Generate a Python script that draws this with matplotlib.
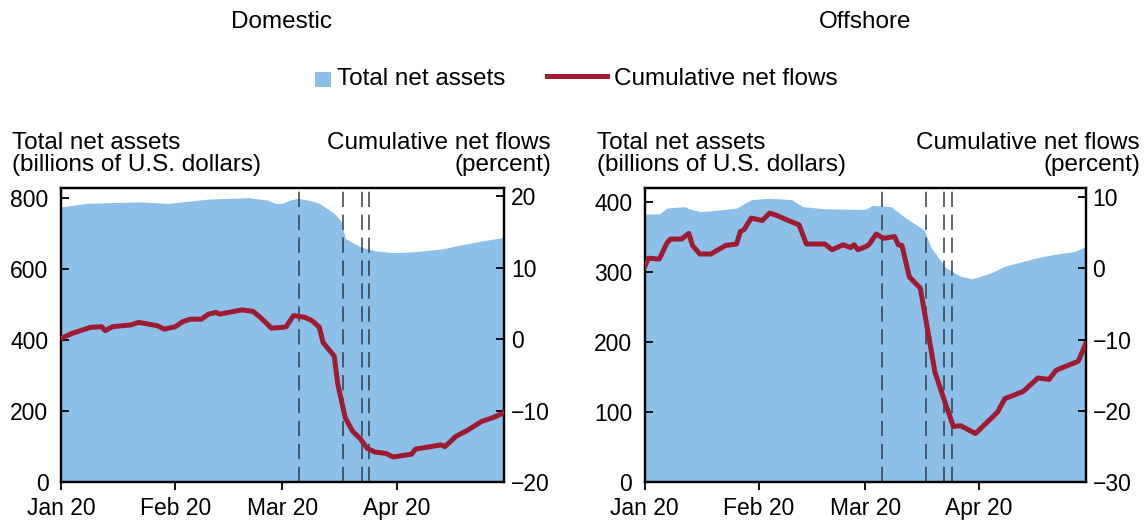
import numpy as np
import pandas as pd
import matplotlib
matplotlib.use("Agg")
import matplotlib.pyplot as plt
import matplotlib.dates as mdates
from matplotlib.patches import Patch, Rectangle
from matplotlib.lines import Line2D
from matplotlib.legend_handler import HandlerPatch

plt.rcParams["font.family"] = ["Liberation Sans", "DejaVu Sans"]

# ---- domestic prime funds ----
dom_tna_dates = [
    "2020-01-01", "2020-01-08", "2020-01-22", "2020-01-30", "2020-02-10",
    "2020-02-21", "2020-02-26", "2020-02-28", "2020-03-01", "2020-03-03",
    "2020-03-05", "2020-03-08", "2020-03-11", "2020-03-15", "2020-03-17",
    "2020-03-18", "2020-03-22", "2020-03-26", "2020-03-31", "2020-04-05",
    "2020-04-13", "2020-04-18", "2020-04-24", "2020-04-30",
]
dom_tna = [
    776, 786, 790, 786, 798,
    802, 795, 786, 786, 795,
    800, 795, 786, 758, 734,
    687, 664, 652, 647, 649,
    657, 668, 680, 690,
]

dom_flow_dates = [
    "2020-01-01", "2020-01-04", "2020-01-09", "2020-01-12", "2020-01-13",
    "2020-01-15", "2020-01-20", "2020-01-22", "2020-01-27", "2020-01-29",
    "2020-02-01", "2020-02-03", "2020-02-05", "2020-02-08", "2020-02-10",
    "2020-02-12", "2020-02-13", "2020-02-19", "2020-02-22", "2020-02-24",
    "2020-02-27", "2020-03-01", "2020-03-02", "2020-03-04", "2020-03-07",
    "2020-03-09", "2020-03-11", "2020-03-12", "2020-03-15", "2020-03-16",
    "2020-03-18", "2020-03-20", "2020-03-22", "2020-03-24", "2020-03-26",
    "2020-03-29", "2020-03-31", "2020-04-05", "2020-04-06", "2020-04-13",
    "2020-04-14", "2020-04-17", "2020-04-20", "2020-04-24", "2020-04-27",
    "2020-04-30",
]
dom_flow = [
    0.1, 0.8, 1.65, 1.75, 1.2,
    1.75, 2.0, 2.35, 1.9, 1.4,
    1.75, 2.45, 2.8, 2.8, 3.5,
    3.75, 3.5, 4.1, 3.9, 3.06,
    1.55, 1.65, 1.74, 3.3, 3.06,
    2.6, 1.65, -0.47, -2.35, -6.35,
    -11.0, -12.9, -13.9, -15.3, -15.8,
    -16.0, -16.5, -16.1, -15.4, -14.8,
    -15.05, -13.6, -12.8, -11.5, -11.0,
    -10.3,
]

# ---- offshore prime funds ----
off_tna_dates = [
    "2020-01-01", "2020-01-05", "2020-01-07", "2020-01-12", "2020-01-13",
    "2020-01-16", "2020-01-19", "2020-01-26", "2020-01-30", "2020-02-04",
    "2020-02-10", "2020-02-13", "2020-02-19", "2020-03-01", "2020-03-03",
    "2020-03-08", "2020-03-12", "2020-03-17", "2020-03-19", "2020-03-23",
    "2020-03-27", "2020-03-30", "2020-04-04", "2020-04-08", "2020-04-16",
    "2020-04-21", "2020-04-27", "2020-04-30",
]
off_tna = [
    382.6, 382.6, 391, 393, 390,
    386, 387, 391, 403, 405,
    403, 393, 390, 389, 395,
    393, 377, 360, 334, 305.5,
    293.6, 290, 298, 308, 319,
    324.5, 329, 336,
]

off_flow_dates = [
    "2020-01-01", "2020-01-02", "2020-01-05", "2020-01-07", "2020-01-08",
    "2020-01-11", "2020-01-13", "2020-01-14", "2020-01-16", "2020-01-19",
    "2020-01-21", "2020-01-23", "2020-01-26", "2020-01-27", "2020-01-28",
    "2020-01-30", "2020-02-02", "2020-02-04", "2020-02-06", "2020-02-10",
    "2020-02-12", "2020-02-14", "2020-02-19", "2020-02-21", "2020-02-24",
    "2020-02-26", "2020-02-27", "2020-02-28", "2020-03-01", "2020-03-02",
    "2020-03-04", "2020-03-06", "2020-03-09", "2020-03-10", "2020-03-11",
    "2020-03-13", "2020-03-16", "2020-03-20", "2020-03-23", "2020-03-25",
    "2020-03-27", "2020-03-31", "2020-04-03", "2020-04-06", "2020-04-08",
    "2020-04-13", "2020-04-17", "2020-04-20", "2020-04-22", "2020-04-28",
    "2020-04-30",
]
off_flow = [
    0.23, 1.4, 1.3, 3.5, 4.1,
    4.1, 4.9, 3.2, 2.0, 2.0,
    2.6, 3.2, 3.4, 5.15, 5.4,
    7.04, 6.7, 7.75, 7.4, 6.5,
    6.1, 3.4, 3.4, 2.6, 3.3,
    2.9, 3.3, 2.6, 3.0, 3.3,
    4.8, 4.2, 4.45, 3.3, 3.2,
    -1.2, -2.8, -14.6, -19.25, -22.2,
    -22.1, -23.2, -21.7, -20.2, -18.3,
    -17.3, -15.4, -15.6, -14.3, -13.05,
    -10.6,
]

# policy announcement dates (dashed verticals)
event_dates = ["2020-03-05 12:00", "2020-03-17 12:00", "2020-03-22 12:00", "2020-03-24 12:00"]

BLUE = "#8dc0e8"
RED = "#9e1b32"

panels = [
    dict(title="Domestic", tna_d=dom_tna_dates, tna=dom_tna, flow_d=dom_flow_dates, flow=dom_flow,
         left_lim=(0, 830), left_ticks=[0, 200, 400, 600, 800],
         right_lim=(-20, 21.2), right_ticks=[-20, -10, 0, 10, 20],
         rect=[0.0531, 0.0819, 0.3859, 0.5605],
         title_x=0.2456, lab_l=0.0105, lab_r=0.480),
    dict(title="Offshore", tna_d=off_tna_dates, tna=off_tna, flow_d=off_flow_dates, flow=off_flow,
         left_lim=(0, 420), left_ticks=[0, 100, 200, 300, 400],
         right_lim=(-30, 11.3), right_ticks=[-30, -20, -10, 0, 10],
         rect=[0.5616, 0.0819, 0.3841, 0.5605],
         title_x=0.7535, lab_l=0.520, lab_r=0.993),
]

fig = plt.figure(figsize=(11.48, 5.25), dpi=100)

FS = 17.5
TFS = 16.5
for p in panels:
    ax = fig.add_axes(p["rect"])
    ax2 = ax.twinx()

    ax.fill_between(pd.to_datetime(p["tna_d"]), p["tna"], 0, color=BLUE, lw=0, zorder=1)
    for d in event_dates:
        ax.axvline(pd.Timestamp(d), color="#2e3c4a", lw=1.1, dashes=(10, 5), zorder=2)
    ax2.plot(pd.to_datetime(p["flow_d"]), p["flow"], color=RED, lw=3.6,
             solid_joinstyle="round", zorder=3)

    ax.set_xlim(pd.Timestamp("2020-01-01"), pd.Timestamp("2020-04-30"))
    ax.set_ylim(*p["left_lim"])
    ax.set_yticks(p["left_ticks"])
    ax2.set_ylim(*p["right_lim"])
    ax2.set_yticks(p["right_ticks"])

    ax.xaxis.set_major_locator(mdates.MonthLocator())
    ax.xaxis.set_major_formatter(mdates.DateFormatter("%b %y"))

    ax.tick_params(axis="x", direction="out", length=6, width=1.3, labelsize=TFS, pad=5)
    ax.tick_params(axis="y", direction="in", length=6, width=1.3, labelsize=TFS, pad=9)
    ax2.tick_params(axis="y", direction="in", length=6, width=1.3, labelsize=TFS, pad=5)
    for a in (ax, ax2):
        for s in a.spines.values():
            s.set_linewidth(1.6)
            s.set_color("black")

    fig.text(p["title_x"], 0.958, p["title"], ha="center", va="center", fontsize=FS)
    fig.text(p["lab_l"], 0.665, "Total net assets\n(billions of U.S. dollars)",
             ha="left", va="bottom", fontsize=FS, linespacing=1.0)
    fig.text(p["lab_r"], 0.665, "Cumulative net flows\n(percent)",
             ha="right", va="bottom", fontsize=FS, linespacing=1.0, multialignment="right")


def small_square(legend, orig_handle, xdescent, ydescent, width, height, fontsize):
    # narrow swatch sitting at the right end of the handle box
    w, h = 11.0, 10.5
    return Rectangle((width - w - xdescent, -ydescent - 1.0), w, h)


handles = [
    Patch(facecolor=BLUE, edgecolor="none", label="Total net assets"),
    Line2D([0], [0], color=RED, lw=3.6, label="Cumulative net flows"),
]
fig.legend(handles=handles, loc="center", bbox_to_anchor=(0.4826, 0.851), ncol=2,
           frameon=False, fontsize=FS, handlelength=2.47, handleheight=0.8,
           columnspacing=1.7, handletextpad=0.28,
           handler_map={Patch: HandlerPatch(patch_func=small_square)})

fig.savefig("out.png", dpi=100)
